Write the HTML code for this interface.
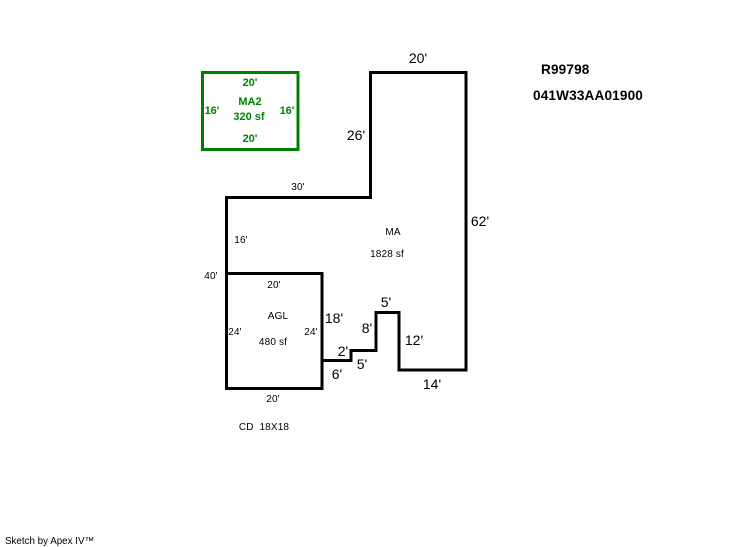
<!DOCTYPE html>
<html>
<head>
<meta charset="utf-8">
<style>
html,body{margin:0;padding:0;background:#fff;width:746px;height:547px;overflow:hidden}
svg{display:block}
text{font-family:"Liberation Sans",sans-serif;text-anchor:middle;fill:#000}
.s{font-size:10px;letter-spacing:.15px}
.m{font-size:14px}
.g{font-size:11px;font-weight:bold;fill:#008000}
.b{font-size:13.6px;font-weight:bold;text-anchor:start;letter-spacing:.15px}
</style>
</head>
<body>
<svg width="746" height="547" viewBox="0 0 746 547" xmlns="http://www.w3.org/2000/svg">
<rect x="202.5" y="72.5" width="95.5" height="77" fill="none" stroke="#008000" stroke-width="3"/>
<g fill="none" stroke="#000" stroke-width="3" stroke-linejoin="miter">
<path d="M226.5 273V197.5H370.5V72.5H466V370H399V312.5H376V350.5H351V360.5H322"/>
</g>
<rect x="226.5" y="273.5" width="95.5" height="115" fill="none" stroke="#000" stroke-width="3"/>

<text class="g" x="250" y="86">20'</text>
<text class="g" x="250" y="105">MA2</text>
<text class="g" x="249" y="120">320 sf</text>
<text class="g" x="250" y="142">20'</text>
<text class="g" x="212" y="114">16'</text>
<text class="g" x="287" y="114">16'</text>

<text class="m" x="418" y="63">20'</text>
<text class="m" x="356" y="140">26'</text>
<text class="m" x="480" y="226">62'</text>
<text class="s" x="298" y="190">30'</text>
<text class="s" x="241" y="243">16'</text>
<text class="s" x="211" y="279">40'</text>
<text class="s" x="393" y="235">MA</text>
<text class="s" x="387" y="257">1828 sf</text>

<text class="s" x="274" y="288">20'</text>
<text class="s" x="278" y="319">AGL</text>
<text class="s" x="235" y="335">24'</text>
<text class="s" x="311" y="335">24'</text>
<text class="s" x="273" y="345">480 sf</text>
<text class="s" x="273" y="402">20'</text>
<text class="s" x="264" y="430">CD&#160;&#160;18X18</text>

<text class="m" x="334" y="323">18'</text>
<text class="m" x="343" y="356">2'</text>
<text class="m" x="337" y="379">6'</text>
<text class="m" x="362" y="369">5'</text>
<text class="m" x="367" y="333">8'</text>
<text class="m" x="386" y="307">5'</text>
<text class="m" x="414" y="345">12'</text>
<text class="m" x="432" y="389">14'</text>

<text class="b" x="541" y="74">R99798</text>
<text class="b" x="533" y="100">041W33AA01900</text>

<text x="5" y="544" style="text-anchor:start;font-size:9.8px">Sketch by Apex IV&#8482;</text>
</svg>
</body>
</html>
